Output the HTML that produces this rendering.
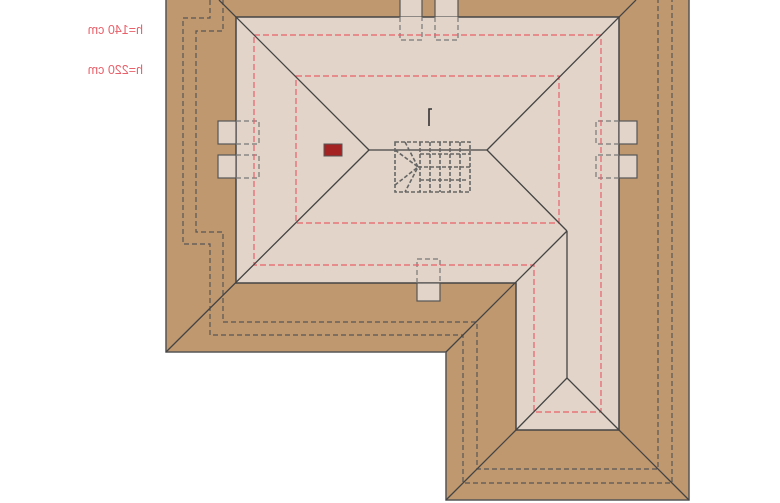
<!DOCTYPE html>
<html><head><style>html,body{margin:0;padding:0;background:#fff}svg{display:block}</style></head>
<body>
<svg width="780" height="503" viewBox="0 0 780 503" xmlns="http://www.w3.org/2000/svg">
<polygon points="166,-5 689,-5 689,500 446,500 446,352 166,352" fill="#c09870" stroke="#555" stroke-width="1.5"/>
<polygon points="236,17 619,17 619,430 516,430 516,283 236,283" fill="#e2d4c8" stroke="#444" stroke-width="1.5"/>
<g fill="#e2d4c8" stroke="#555" stroke-width="1.2">
<rect x="400" y="-2" width="22" height="19"/><rect x="435" y="-2" width="23" height="19"/>
<rect x="218" y="121" width="18" height="23"/><rect x="218" y="155" width="18" height="23"/>
<rect x="619" y="121" width="18" height="23"/><rect x="619" y="155" width="18" height="23"/>
<rect x="417" y="283" width="23" height="18"/>
</g>
<rect x="400" y="17" width="22" height="23" fill="#e2d4c8"/><rect x="435" y="17" width="23" height="23" fill="#e2d4c8"/>
<g fill="none" stroke="#777" stroke-width="1.2" stroke-dasharray="5,3">
<polyline points="400,17 400,40 422,40 422,17"/><polyline points="435,17 435,40 458,40 458,17"/>
<polyline points="236,121 259,121 259,144 236,144"/><polyline points="236,155 259,155 259,178 236,178"/>
<polyline points="619,121 596,121 596,144 619,144"/><polyline points="619,155 596,155 596,178 619,178"/>
<polyline points="417,283 417,259 440,259 440,283"/>
</g>
<g fill="none" stroke="#555" stroke-width="1.2" stroke-dasharray="5,3">
<polyline points="210,0 210,18 183,18 183,244 210,244 210,335 463,335 463,483 672,483 672,0"/>
<polyline points="223,0 223,31 196,31 196,232 223,232 223,322 477,322 477,469 658,469 658,0"/>
</g>
<g fill="none" stroke="#e8606a" stroke-width="1.2" stroke-dasharray="6,3">
<polyline points="254,35 601,35 601,412 534,412 534,265 254,265 254,35"/>
<rect x="296" y="76" width="263" height="147"/>
</g>
<g stroke="#444" stroke-width="1.3" fill="none">
<line x1="219" y1="0" x2="369" y2="150"/>
<line x1="166" y1="352" x2="369" y2="150"/>
<line x1="369" y1="150" x2="487" y2="150"/>
<line x1="487" y1="150" x2="636" y2="0"/>
<line x1="487" y1="150" x2="567" y2="231"/>
<line x1="446" y1="352" x2="567" y2="231"/>
<line x1="567" y1="231" x2="567" y2="378"/>
<line x1="567" y1="378" x2="516" y2="430"/>
<line x1="567" y1="378" x2="619" y2="430"/>
<line x1="516" y1="430" x2="446" y2="500"/>
<line x1="619" y1="430" x2="689" y2="500"/>
</g>
<rect x="324" y="144" width="18" height="12" fill="#a52222" stroke="#555" stroke-width="1"/>
<path d="M429 126 V109 H432" stroke="#333" stroke-width="1.6" fill="none"/>
<g fill="none" stroke="#666" stroke-width="1.6" stroke-dasharray="4,2">
<rect x="395" y="142" width="75" height="50"/>
<line x1="418" y1="167" x2="470" y2="167"/>
<line x1="420" y1="142" x2="420" y2="192"/>
<path d="M420 154 H470 M420 180 H468 M430 142 V192 M440 142 V192 M450 142 V192 M460 142 V192"/>
<path d="M395 150 L418 167 L395 185 M405 142 L418 167 L405 192"/>
</g>
<g fill="#e8606a" font-family="Liberation Sans, sans-serif" font-size="12.5">
<text transform="translate(232,0) scale(-1,1)" x="89" y="34">h=140 cm</text>
<text transform="translate(232,0) scale(-1,1)" x="89" y="74">h=220 cm</text>
</g>
</svg>
</body></html>
